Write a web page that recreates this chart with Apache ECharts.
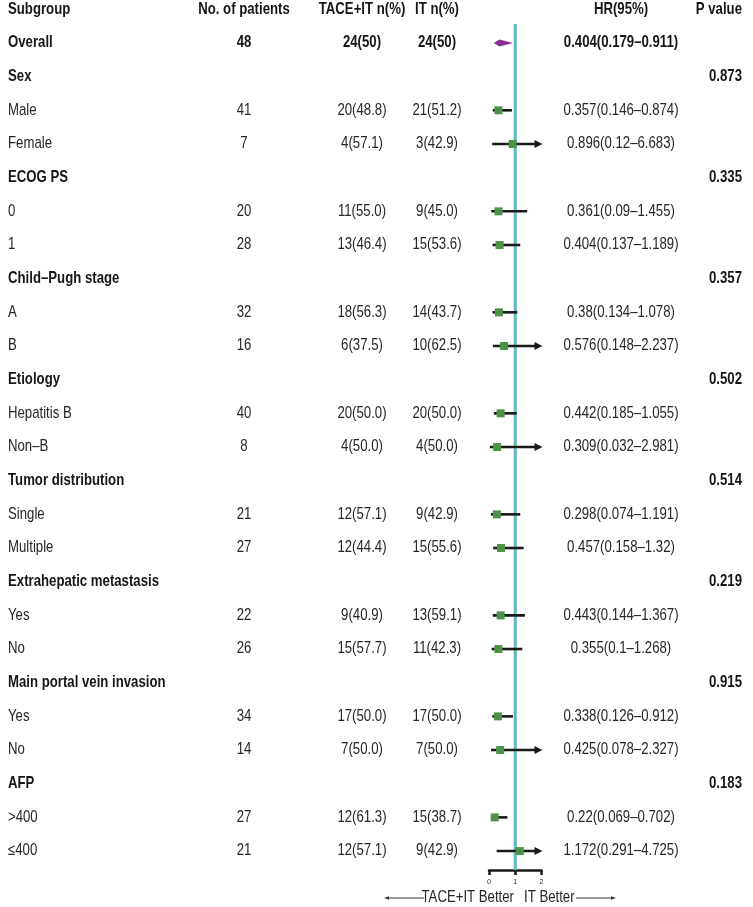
<!DOCTYPE html>
<html>
<head>
<meta charset="utf-8">
<script src="https://cdn.jsdelivr.net/npm/echarts@6/dist/echarts.min.js"></script>
<style>
  html, body { margin: 0; padding: 0; background: #fff; }
  #chart { width: 753px; height: 907px; }
</style>
</head>
<body>
<div id="chart"></div>
<script>
// 表头
const headers = ['Subgroup', 'No. of patients', 'TACE+IT n(%)', 'IT n(%)', 'HR(95%)', 'P value'];

// 亚组
const subgroups = ['Overall', 'Sex', 'Male', 'Female', 'ECOG PS', '0', '1',
    'Child–Pugh stage', 'A', 'B', 'Etiology', 'Hepatitis B', 'Non–B',
    'Tumor distribution', 'Single', 'Multiple', 'Extrahepatic metastasis', 'Yes', 'No',
    'Main portal vein invasion', 'Yes', 'No', 'AFP', '>400', '≤400'];
// 是否为分组标题行
const isGroup = [true, true, false, false, true, false, false,
    true, false, false, true, false, false,
    true, false, false, true, false, false,
    true, false, false, true, false, false];

const patients = [48, null, 41, 7, null, 20, 28, null, 32, 16, null, 40, 8,
    null, 21, 27, null, 22, 26, null, 34, 14, null, 27, 21];
const taceIt = ['24(50)', '', '20(48.8)', '4(57.1)', '', '11(55.0)', '13(46.4)',
    '', '18(56.3)', '6(37.5)', '', '20(50.0)', '4(50.0)',
    '', '12(57.1)', '12(44.4)', '', '9(40.9)', '15(57.7)',
    '', '17(50.0)', '7(50.0)', '', '12(61.3)', '12(57.1)'];
const itOnly = ['24(50)', '', '21(51.2)', '3(42.9)', '', '9(45.0)', '15(53.6)',
    '', '14(43.7)', '10(62.5)', '', '20(50.0)', '4(50.0)',
    '', '9(42.9)', '15(55.6)', '', '13(59.1)', '11(42.3)',
    '', '17(50.0)', '7(50.0)', '', '15(38.7)', '9(42.9)'];

// HR 及 95% CI
const hr = [0.404, null, 0.357, 0.896, null, 0.361, 0.404, null, 0.38, 0.576,
    null, 0.442, 0.309, null, 0.298, 0.457, null, 0.443, 0.355,
    null, 0.338, 0.425, null, 0.22, 1.172];
const ciLow = [0.179, null, 0.146, 0.12, null, 0.09, 0.137, null, 0.134, 0.148,
    null, 0.185, 0.032, null, 0.074, 0.158, null, 0.144, 0.1,
    null, 0.126, 0.078, null, 0.069, 0.291];
const ciHigh = [0.911, null, 0.874, 6.683, null, 1.455, 1.189, null, 1.078, 2.237,
    null, 1.055, 2.981, null, 1.191, 1.32, null, 1.367, 1.268,
    null, 0.912, 2.327, null, 0.702, 4.725];

const pValues = ['', '0.873', '', '', '0.335', '', '', '0.357', '', '',
    '0.502', '', '', '0.514', '', '', '0.219', '', '',
    '0.915', '', '', '0.183', '', ''];

const xTicks = [0, 1, 2];

// 行位置 (像素)
const ROW0 = 9.3, STEP = 33.67;
const H = 907;
const FONT = '"Liberation Sans", Arial, Helvetica, sans-serif';
const FONT_SIZE = 13.2;
const STRETCH = 1.22;   // 原图文字纵向拉长
const TEXT_COLOR = '#262626';
const BOLD_COLOR = '#161616';

function rowRange(top, bottom) {
    return [(top - ROW0) / STEP, (bottom - ROW0) / STEP];
}
const fullRange = rowRange(0, H);
const forestTop = 24, forestBottom = 870;
const forestRange = rowRange(forestTop, forestBottom);

// 文字列
function textColumn(x, align, values, boldFn) {
    const data = [];
    values.forEach(function (v, i) {
        if (v === null || v === '') return;
        data.push([x, i, String(v), boldFn(i) ? 1 : 0]);
    });
    return {
        type: 'custom',
        xAxisIndex: 0,
        yAxisIndex: 0,
        silent: true,
        data: data,
        renderItem: function (params, api) {
            const p = api.coord([api.value(0), api.value(1)]);
            const d = data[params.dataIndex];
            return {
                type: 'text',
                x: p[0],
                y: p[1],
                scaleY: STRETCH,
                style: {
                    text: d[2],
                    textAlign: align,
                    textVerticalAlign: 'middle',
                    fill: d[3] ? BOLD_COLOR : TEXT_COLOR,
                    font: (d[3] ? 'bold ' : '') + FONT_SIZE + 'px ' + FONT
                }
            };
        }
    };
}

// 行号: 表头为 0，数据行从 1 开始
const withHeader = function (h, arr) { return [h].concat(arr); };
const boldHeaderOr = function (arr) {
    return function (i) { return i === 0 || arr(i - 1); };
};

const hrLabels = hr.map(function (v, i) {
    return v === null ? '' : v + '(' + ciLow[i] + '–' + ciHigh[i] + ')';
});

const forestData = [];
hr.forEach(function (v, i) {
    if (v === null) return;
    forestData.push([v, ciLow[i], ciHigh[i], i + 1, i === 0 ? 1 : 0]);
});

const columns = [
    textColumn(8, 'left', withHeader(headers[0], subgroups), boldHeaderOr(function (i) { return isGroup[i]; })),
    textColumn(244, 'center', withHeader(headers[1], patients), boldHeaderOr(function (i) { return i === 0; })),
    textColumn(362, 'center', withHeader(headers[2], taceIt), boldHeaderOr(function (i) { return i === 0; })),
    textColumn(437, 'center', withHeader(headers[3], itOnly), boldHeaderOr(function (i) { return i === 0; })),
    textColumn(621, 'center', withHeader(headers[4], hrLabels), boldHeaderOr(function (i) { return i === 0; })),
    textColumn(742, 'right', withHeader(headers[5], pValues), function () { return true; })
];

const chart = echarts.init(document.getElementById('chart'));
chart.setOption({
    backgroundColor: '#fff',
    animation: false,
    grid: [
        { left: 0, top: 0, width: 753, height: H },
        { left: 489, top: forestTop, width: 52.5, height: forestBottom - forestTop }
    ],
    xAxis: [
        { type: 'value', gridIndex: 0, min: 0, max: 753, show: false },
        {
            type: 'value', gridIndex: 1, min: xTicks[0], max: xTicks[xTicks.length - 1], interval: 1,
            axisLine: { show: true, lineStyle: { color: '#1a1a1a', width: 2.5 } },
            axisTick: { show: true, length: 5, lineStyle: { color: '#1a1a1a', width: 2.5 } },
            axisLabel: { fontSize: 7, color: '#333', margin: 9, fontFamily: FONT },
            splitLine: { show: false }
        }
    ],
    yAxis: [
        { type: 'value', gridIndex: 0, inverse: true, min: fullRange[0], max: fullRange[1], show: false },
        { type: 'value', gridIndex: 1, inverse: true, min: forestRange[0], max: forestRange[1], show: false }
    ],
    series: columns.concat([
        {
            // 无效线 HR=1
            type: 'custom',
            xAxisIndex: 1,
            yAxisIndex: 1,
            silent: true,
            z: 1,
            data: [[1]],
            renderItem: function (params, api) {
                const a = api.coord([1, forestRange[0]]);
                const b = api.coord([1, forestRange[1]]);
                return {
                    type: 'line',
                    shape: { x1: a[0], y1: a[1], x2: b[0], y2: b[1] },
                    style: { stroke: '#5cb9c1', lineWidth: 3 }
                };
            }
        },
        {
            type: 'custom',
            xAxisIndex: 1,
            yAxisIndex: 1,
            silent: true,
            z: 3,
            clip: false,
            data: forestData,
            renderItem: function (params, api) {
                const v = api.value(0), lo = api.value(1), hi = api.value(2), row = api.value(3);
                const overall = api.value(4) === 1;
                const maxX = xTicks[xTicks.length - 1];
                const pc = api.coord([v, row]);
                const pl = api.coord([lo, row]);
                const ph = api.coord([Math.min(hi, maxX), row]);
                const children = [];
                if (overall) {
                    children.push({
                        type: 'polygon',
                        shape: { points: [[pl[0], pc[1]], [pc[0], pc[1] - 3.5], [ph[0], pc[1]], [pc[0], pc[1] + 3.5]] },
                        style: { fill: '#8b2f92' }
                    });
                    return { type: 'group', children: children };
                }
                const arrow = hi > maxX;
                children.push({
                    type: 'line',
                    shape: { x1: pl[0], y1: pc[1], x2: arrow ? ph[0] - 5 : ph[0], y2: pc[1] },
                    style: { stroke: '#1a1a1a', lineWidth: 2.6 }
                });
                if (arrow) {
                    children.push({
                        type: 'polygon',
                        shape: { points: [[ph[0] - 7, pc[1] - 4], [ph[0] + 1, pc[1]], [ph[0] - 7, pc[1] + 4]] },
                        style: { fill: '#1a1a1a' }
                    });
                }
                children.push({
                    type: 'rect',
                    shape: { x: pc[0] - 4, y: pc[1] - 4, width: 8, height: 8 },
                    style: { fill: '#4e9249' }
                });
                return { type: 'group', children: children };
            }
        }
    ]),
    graphic: [
        {
            type: 'text', x: 514, y: 898, scaleY: STRETCH,
            style: { text: 'TACE+IT Better', font: FONT_SIZE + 'px ' + FONT, fill: TEXT_COLOR, textAlign: 'right', textVerticalAlign: 'middle' }
        },
        {
            type: 'text', x: 524, y: 898, scaleY: STRETCH,
            style: { text: 'IT Better', font: FONT_SIZE + 'px ' + FONT, fill: TEXT_COLOR, textAlign: 'left', textVerticalAlign: 'middle' }
        },
        { type: 'line', shape: { x1: 387, y1: 898, x2: 424, y2: 898 }, style: { stroke: '#333', lineWidth: 1 } },
        { type: 'polygon', shape: { points: [[384, 898], [389, 896.3], [389, 899.7]] }, style: { fill: '#333' } },
        { type: 'line', shape: { x1: 576, y1: 898, x2: 613, y2: 898 }, style: { stroke: '#333', lineWidth: 1 } },
        { type: 'polygon', shape: { points: [[616, 898], [611, 896.3], [611, 899.7]] }, style: { fill: '#333' } }
    ]
});
</script>
</body>
</html>
